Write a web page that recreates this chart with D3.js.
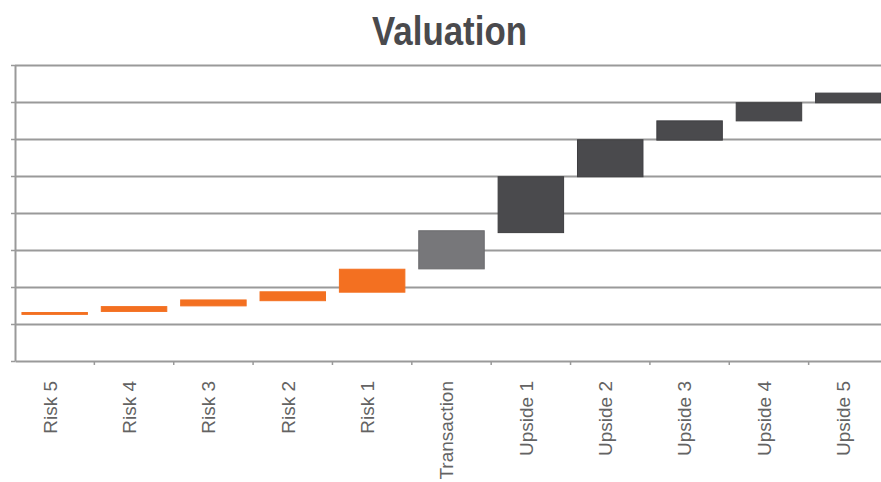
<!DOCTYPE html>
<html>
<head>
<meta charset="utf-8">
<script src="https://cdn.jsdelivr.net/npm/d3@7"></script>
<style>
  body { margin: 0; background: #fff; }
  svg { display: block; }
</style>
</head>
<body>
<div id="chart"></div>
<script>
// Categories and floating bar ends (in gridline units)
const categories = ["Risk 5", "Risk 4", "Risk 3", "Risk 2", "Risk 1", "Transaction",
                    "Upside 1", "Upside 2", "Upside 3", "Upside 4", "Upside 5"];
const lows  = [1.26, 1.34, 1.49, 1.63, 1.86, 2.49, 3.47, 4.98, 5.97, 6.49, 6.98];
const highs = [1.31, 1.47, 1.65, 1.87, 2.48, 3.52, 4.98, 5.98, 6.49, 6.98, 7.24];
const kinds = ["risk", "risk", "risk", "risk", "risk", "base",
               "upside", "upside", "upside", "upside", "upside"];
const yTicks = [0, 1, 2, 3, 4, 5, 6, 7, 8];

const data = categories.map((c, i) => ({name: c, low: lows[i], high: highs[i], kind: kinds[i]}));

// Dimensions
const margin = {top: 65, right: -7, bottom: 121, left: 15};
const totalW = 881, totalH = 482;
const width = totalW - margin.left - margin.right;
const height = totalH - margin.top - margin.bottom;

const svg = d3.select("#chart")
  .append("svg")
  .attr("width", totalW)
  .attr("height", totalH);

// Title (condensed look via textLength)
svg.append("text")
    .attr("x", 372)
    .attr("y", 45)
    .attr("textLength", 155)
    .attr("lengthAdjust", "spacingAndGlyphs")
    .style("font-family", "'Liberation Sans', Arial, sans-serif")
    .style("font-weight", "bold")
    .style("font-size", "40px")
    .style("fill", "#4a4a4d")
    .text("Valuation");

const g = svg.append("g")
    .attr("transform", `translate(${margin.left},${margin.top})`);

// Scales
const x = d3.scaleBand()
    .domain(categories)
    .range([0, width])
    .paddingInner(0.175)
    .paddingOuter(0.0875);

const y = d3.scaleLinear()
    .domain([0, 8])
    .range([height, 0]);

const color = d3.scaleOrdinal()
    .domain(["risk", "base", "upside"])
    .range(["#f37021", "#77777a", "#4a4a4d"]);
const edge = d3.scaleOrdinal()
    .domain(["risk", "base", "upside"])
    .range(["#f37021", "#6a6a6d", "#3e3e41"]);

// Gridlines
const grid = g.append("g")
    .call(d3.axisLeft(y).tickValues(yTicks.slice(1)).tickSize(-width).tickFormat(""));
grid.select(".domain").remove();
grid.selectAll("line")
    .attr("stroke", "#9a9a9a")
    .attr("stroke-width", 2);

// Y axis with small ticks
const yAxis = g.append("g")
    .call(d3.axisLeft(y).tickValues(yTicks).tickSize(4).tickSizeOuter(0).tickFormat(""));
yAxis.selectAll("line").attr("stroke", "#9a9a9a").attr("stroke-width", 1.5);
yAxis.select(".domain").attr("stroke", "#9a9a9a").attr("stroke-width", 2);

// X axis (labels)
const xAxis = g.append("g")
    .attr("transform", `translate(0,${height})`)
    .call(d3.axisBottom(x).tickSize(0).tickSizeOuter(0));
xAxis.select(".domain").attr("stroke", "#9a9a9a").attr("stroke-width", 2);
xAxis.selectAll("text")
    .style("font-family", "'Liberation Sans', Arial, sans-serif")
    .style("font-size", "19px")
    .style("fill", "#636363")
    .attr("text-anchor", "end")
    .attr("x", -20)
    .attr("y", 0)
    .attr("dy", "0.1em")
    .attr("transform", "rotate(-90)");

// Tick marks at band boundaries
const step = x.step();
g.append("g")
  .selectAll("line")
  .data(categories)
  .enter()
  .append("line")
    .attr("x1", d => x(d) + x.bandwidth() + (step - x.bandwidth()) / 2)
    .attr("x2", d => x(d) + x.bandwidth() + (step - x.bandwidth()) / 2)
    .attr("y1", height)
    .attr("y2", height + 4)
    .attr("stroke", "#9a9a9a")
    .attr("stroke-width", 1.5);

// Floating bars
g.append("g")
  .selectAll("rect")
  .data(data)
  .enter()
  .append("rect")
    .attr("x", d => x(d.name))
    .attr("y", d => y(d.high))
    .attr("width", x.bandwidth())
    .attr("height", d => Math.max(1.5, y(d.low) - y(d.high)))
    .attr("fill", d => color(d.kind))
    .attr("stroke", d => edge(d.kind))
    .attr("stroke-width", 1);
</script>
</body>
</html>
